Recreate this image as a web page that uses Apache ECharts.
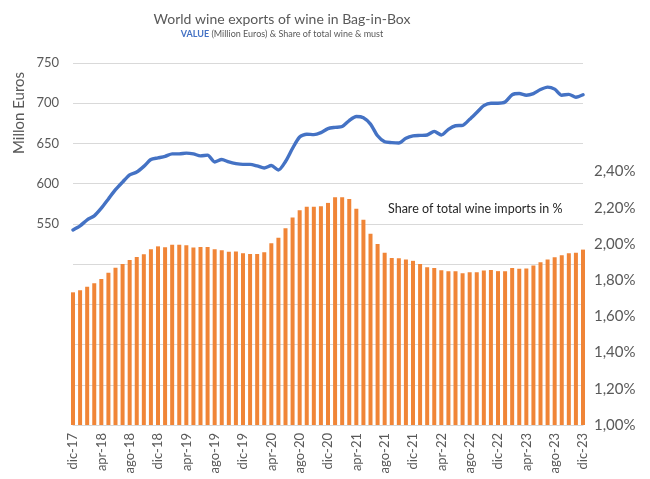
<!DOCTYPE html>
<html>
<head>
<meta charset="utf-8">
<script src="https://cdn.jsdelivr.net/npm/echarts@6/dist/echarts.min.js"></script>
<style>
  html, body { margin: 0; padding: 0; background: #fff; }
  #chart { width: 650px; height: 479px; }
</style>
</head>
<body>
<div id="chart"></div>
<script>
// Month abbreviations used on the category axis
const monthNames = ['ene', 'feb', 'mar', 'apr', 'may', 'jun', 'jul', 'ago', 'sep', 'oct', 'nov', 'dic'];

// Monthly categories, dic-17 .. dic-23
const categories = [];
for (let y = 2017; y <= 2023; y++) {
  for (let m = 0; m < 12; m++) {
    if (y === 2017 && m < 11) continue;
    categories.push(monthNames[m] + '-' + String(y).slice(2));
  }
}

// Export value, million euros (rolling)
const valueMillionEuros = [
  542.5, 547.5, 555, 560, 569.5, 581, 592.5, 602, 611, 614.5, 621.5, 630,
  632, 634, 637, 637, 638, 637, 634.5, 635.5, 627, 630, 627, 625,
  624, 624, 622, 619.5, 622.5, 617, 627.5, 644, 658, 661.5, 661, 663.5,
  668.5, 670, 671, 678.5, 683.5, 682, 674, 659.5, 652, 651, 650.5, 656.5,
  659.5, 660, 660.5, 665, 660.5, 667.5, 672, 672.5, 680, 688.5, 697, 700,
  700, 701.5, 710.5, 712, 710, 712, 717, 720, 717.5, 710, 711, 707.5,
  710.5
];

// Share of total wine imports, %
const sharePercent = [
  1.733, 1.744, 1.764, 1.783, 1.806, 1.841, 1.869, 1.890, 1.912, 1.928, 1.943, 1.971,
  1.987, 1.982, 1.996, 1.996, 1.993, 1.981, 1.983, 1.984, 1.971, 1.966, 1.957, 1.958,
  1.949, 1.945, 1.945, 1.955, 2.004, 2.035, 2.087, 2.146, 2.187, 2.206, 2.206, 2.208,
  2.227, 2.258, 2.258, 2.248, 2.195, 2.134, 2.057, 2.000, 1.952, 1.923, 1.921, 1.914,
  1.907, 1.889, 1.871, 1.868, 1.855, 1.850, 1.850, 1.839, 1.844, 1.844, 1.854, 1.856,
  1.850, 1.850, 1.868, 1.863, 1.865, 1.881, 1.899, 1.915, 1.927, 1.938, 1.949, 1.952,
  1.969
];

const FONT = 'Lato, "Open Sans", sans-serif';
const GREY = '#595959';

const chart = echarts.init(document.getElementById('chart'), null, { renderer: 'canvas' });

chart.setOption({
  animation: false,
  backgroundColor: '#ffffff',
  textStyle: { fontFamily: FONT },
  title: {
    text: 'World wine exports of wine in Bag-in-Box',
    subtext: '{v|VALUE} (Million Euros) & Share of total wine & must',
    left: 277,
    textAlign: 'center',
    top: 7,
    itemGap: 4,
    textStyle: { fontFamily: FONT, fontSize: 14, fontWeight: 'normal', color: GREY },
    subtextStyle: {
      fontFamily: FONT, fontSize: 9, color: GREY,
      rich: { v: { fontFamily: FONT, fontSize: 9, fontWeight: 'bold', color: '#4472C4' } }
    }
  },
  grid: { left: 73, right: 67, top: 63, bottom: 54, containLabel: false },
  xAxis: {
    type: 'category',
    data: categories,
    boundaryGap: false,
    axisLine: { show: true, lineStyle: { color: '#D9D9D9' } },
    axisTick: { show: false },
    axisLabel: {
      interval: 3,
      rotate: 90,
      margin: 8,
      fontFamily: FONT,
      fontSize: 13,
      color: GREY
    },
    splitLine: { show: false }
  },
  yAxis: [
    {
      type: 'value',
      min: 300,
      max: 750,
      interval: 50,
      axisLine: { show: false },
      axisTick: { show: false },
      axisLabel: {
        fontFamily: FONT, fontSize: 13, color: GREY, margin: 14,
        formatter: v => (v >= 550 ? String(v) : '')
      },
      splitLine: { show: true, lineStyle: { color: '#D9D9D9', width: 1 } }
    },
    {
      type: 'value',
      min: 1.0,
      max: 3.0,
      interval: 0.2,
      position: 'right',
      axisLine: { show: false },
      axisTick: { show: false },
      axisLabel: {
        fontFamily: FONT, fontSize: 15, color: GREY, margin: 11,
        formatter: v => (v <= 2.4001 ? v.toFixed(2).replace('.', ',') + '%' : '')
      },
      splitLine: { show: false }
    }
  ],
  series: [
    {
      name: 'Share of total wine imports in %',
      type: 'bar',
      yAxisIndex: 1,
      data: sharePercent,
      barWidth: 4,
      clip: true,
      itemStyle: { color: '#F08537' },
      z: 1
    },
    {
      name: 'VALUE',
      type: 'line',
      yAxisIndex: 0,
      data: valueMillionEuros,
      symbol: 'none',
      smooth: 0.25,
      lineStyle: { color: '#4472C4', width: 3.4, cap: 'round', join: 'round' },
      z: 3
    }
  ],
  graphic: [
    {
      type: 'text',
      x: 19,
      y: 113,
      rotation: Math.PI / 2,
      style: {
        text: 'Millon Euros',
        fontFamily: FONT,
        fontSize: 15,
        fill: GREY,
        align: 'center',
        verticalAlign: 'middle'
      }
    },
    {
      type: 'text',
      left: 388,
      top: 202,
      style: {
        text: 'Share of total wine imports in %',
        fontFamily: FONT,
        fontSize: 12.5,
        fill: '#262626'
      }
    }
  ]
});
</script>
</body>
</html>
